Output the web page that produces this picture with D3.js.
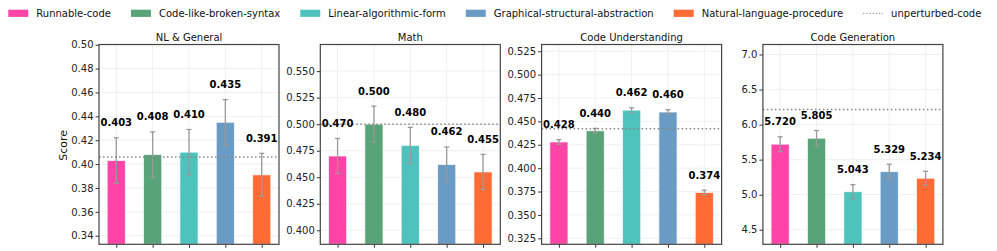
<!DOCTYPE html>
<html>
<head>
<meta charset="utf-8">
<script src="https://cdn.jsdelivr.net/npm/d3@7"></script>
<style>
  body { margin: 0; background: #fff; }
  svg { display: block; font-family: "DejaVu Sans", sans-serif; }
</style>
</head>
<body>
<div id="chart"></div>
<script>
// data
const categories = ["Runnable-code", "Code-like-broken-syntax", "Linear-algorithmic-form",
                    "Graphical-structural-abstraction", "Natural-language-procedure"];
const colors = ["#FF44A8", "#58A377", "#4EC2BC", "#6A9BC4", "#FF6B35"];
const panelTitles = ["NL & General", "Math", "Code Understanding", "Code Generation"];

const nlGeneral = [0.403, 0.408, 0.410, 0.435, 0.391];
const math = [0.470, 0.500, 0.480, 0.462, 0.455];
const codeUnderstanding = [0.428, 0.440, 0.462, 0.460, 0.374];
const codeGeneration = [5.720, 5.805, 5.043, 5.329, 5.234];

const nlGeneralErr = [0.019, 0.019, 0.019, 0.019, 0.018];
const mathErr = [0.0165, 0.017, 0.017, 0.0165, 0.0165];
const codeUnderstandingErr = [0.0025, 0.0025, 0.0025, 0.0025, 0.0024];
const codeGenerationErr = [0.105, 0.11, 0.10, 0.105, 0.10];

const unperturbed = [0.406, 0.500, 0.442, 6.215];

const yTicks = [
  [0.34, 0.36, 0.38, 0.40, 0.42, 0.44, 0.46, 0.48, 0.50],
  [0.400, 0.425, 0.450, 0.475, 0.500, 0.525, 0.550],
  [0.325, 0.350, 0.375, 0.400, 0.425, 0.450, 0.475, 0.500, 0.525],
  [4.5, 5.0, 5.5, 6.0, 6.5, 7.0]
];
const yLimits = [[0.3328, 0.5002], [0.3868, 0.5751], [0.3186, 0.5322], [4.292, 7.1425]];
const tickFormats = [".2f", ".3f", ".3f", ".1f"];

const values = [nlGeneral, math, codeUnderstanding, codeGeneration];
const errors = [nlGeneralErr, mathErr, codeUnderstandingErr, codeGenerationErr];

const width = 997, height = 251;
const panelW = 180, panelStep = 221.3, left0 = 99;
const plotTop = 44.5, plotBottom = 244.3;

const svg = d3.select("#chart").append("svg")
    .attr("width", width)
    .attr("height", height);

// legend (matplotlib-like spacing at 10px font)
const legend = svg.append("g").attr("class", "legend");
const fs = 10;
let lx = 8.3;
const ly = 13.3;
categories.forEach((c, i) => {
  legend.append("rect")
      .attr("x", lx).attr("y", ly - 3.6)
      .attr("width", 2 * fs).attr("height", 0.72 * fs)
      .attr("fill", colors[i]);
  const t = legend.append("text")
      .attr("x", lx + 2.8 * fs).attr("y", ly)
      .attr("dy", "0.35em")
      .attr("font-size", fs)
      .attr("fill", "#111")
      .text(c);
  lx += 2.8 * fs + t.node().getComputedTextLength() + 2 * fs;
});
legend.append("line")
    .attr("x1", lx).attr("x2", lx + 2 * fs)
    .attr("y1", ly).attr("y2", ly)
    .attr("stroke", "#999")
    .attr("stroke-width", 1.2)
    .attr("stroke-dasharray", "1.2,2");
legend.append("text")
    .attr("x", lx + 2.8 * fs).attr("y", ly)
    .attr("dy", "0.35em")
    .attr("font-size", fs)
    .attr("fill", "#111")
    .text("unperturbed-code");

panelTitles.forEach((title, p) => {
  const x0 = left0 + p * panelStep;
  const g = svg.append("g").attr("class", "panel");

  const x = d3.scaleLinear()
      .domain([-0.475, 4.475])
      .range([x0, x0 + panelW]);
  const y = d3.scaleLinear()
      .domain(yLimits[p])
      .range([plotBottom, plotTop]);

  // grid
  g.append("g").selectAll("line")
    .data(yTicks[p])
    .join("line")
      .attr("x1", x0).attr("x2", x0 + panelW)
      .attr("y1", d => y(d)).attr("y2", d => y(d))
      .attr("stroke", "#ececec")
      .attr("stroke-width", 0.8);
  g.append("g").selectAll("line")
    .data(d3.range(categories.length))
    .join("line")
      .attr("x1", d => x(d)).attr("x2", d => x(d))
      .attr("y1", plotTop).attr("y2", plotBottom)
      .attr("stroke", "#ececec")
      .attr("stroke-width", 0.8);

  const data = values[p].map((v, i) => ({i, v, e: errors[p][i]}));

  // bars
  g.append("g").selectAll("rect")
    .data(data)
    .join("rect")
      .attr("x", d => x(d.i - 0.25))
      .attr("width", x(0.25) - x(-0.25))
      .attr("y", d => y(d.v))
      .attr("height", d => plotBottom - y(d.v))
      .attr("fill", (d) => colors[d.i])
      .attr("stroke", "#fff")
      .attr("stroke-opacity", 0.7)
      .attr("stroke-width", 1);

  // error bars
  const eb = g.append("g")
      .attr("stroke", "#999")
      .attr("stroke-width", 1.3);
  eb.append("g").selectAll("line")
    .data(data)
    .join("line")
      .attr("x1", d => x(d.i)).attr("x2", d => x(d.i))
      .attr("y1", d => y(d.v + d.e)).attr("y2", d => y(d.v - d.e));
  [1, -1].forEach(s => {
    eb.append("g").selectAll("line")
      .data(data)
      .join("line")
        .attr("x1", d => x(d.i) - 2.5).attr("x2", d => x(d.i) + 2.5)
        .attr("y1", d => y(d.v + s * d.e)).attr("y2", d => y(d.v + s * d.e));
  });

  // unperturbed reference
  g.append("line")
      .attr("x1", x0).attr("x2", x0 + panelW)
      .attr("y1", y(unperturbed[p])).attr("y2", y(unperturbed[p]))
      .attr("stroke", "#888")
      .attr("stroke-width", 1.5)
      .attr("stroke-dasharray", "1.5,2.5");

  // value labels
  const fmt = d3.format(".3f");
  g.append("g").selectAll("text")
    .data(data)
    .join("text")
      .attr("x", d => x(d.i))
      .attr("y", d => y(d.v + d.e) - 15)
      .attr("dy", "0.35em")
      .attr("text-anchor", "middle")
      .attr("font-size", 10)
      .attr("font-weight", "bold")
      .attr("fill", "#000")
      .text(d => fmt(d.v));

  // axes
  const yAxis = d3.axisLeft(y)
      .tickValues(yTicks[p])
      .tickFormat(d3.format(tickFormats[p]))
      .tickSize(3.5)
      .tickPadding(2);
  g.append("g")
      .attr("transform", `translate(${x0},0)`)
      .call(yAxis)
      .call(a => a.select(".domain").remove())
      .call(a => a.selectAll("text").attr("font-size", 10).attr("fill", "#222").attr("font-family", "DejaVu Sans"))
      .call(a => a.selectAll("line").attr("stroke", "#333"));

  const xAxis = d3.axisBottom(x)
      .tickValues(d3.range(categories.length))
      .tickFormat("")
      .tickSize(3.5);
  g.append("g")
      .attr("transform", `translate(0,${plotBottom})`)
      .call(xAxis)
      .call(a => a.select(".domain").remove())
      .call(a => a.selectAll("line").attr("stroke", "#333"));

  // frame
  g.append("rect")
      .attr("x", x0).attr("y", plotTop)
      .attr("width", panelW).attr("height", plotBottom - plotTop)
      .attr("fill", "none")
      .attr("stroke", "#444")
      .attr("stroke-width", 1.2);

  g.append("text")
      .attr("x", x0 + panelW / 2)
      .attr("y", 37.7)
      .attr("dy", "0.35em")
      .attr("text-anchor", "middle")
      .attr("font-size", 10)
      .attr("fill", "#111")
      .text(title);
});

svg.append("text")
    .attr("transform", `translate(63.3,${(plotTop + plotBottom) / 2 + 1}) rotate(-90)`)
    .attr("text-anchor", "middle")
    .attr("dy", "0.35em")
    .attr("font-size", 11)
    .attr("fill", "#111")
    .text("Score");
</script>
</body>
</html>
